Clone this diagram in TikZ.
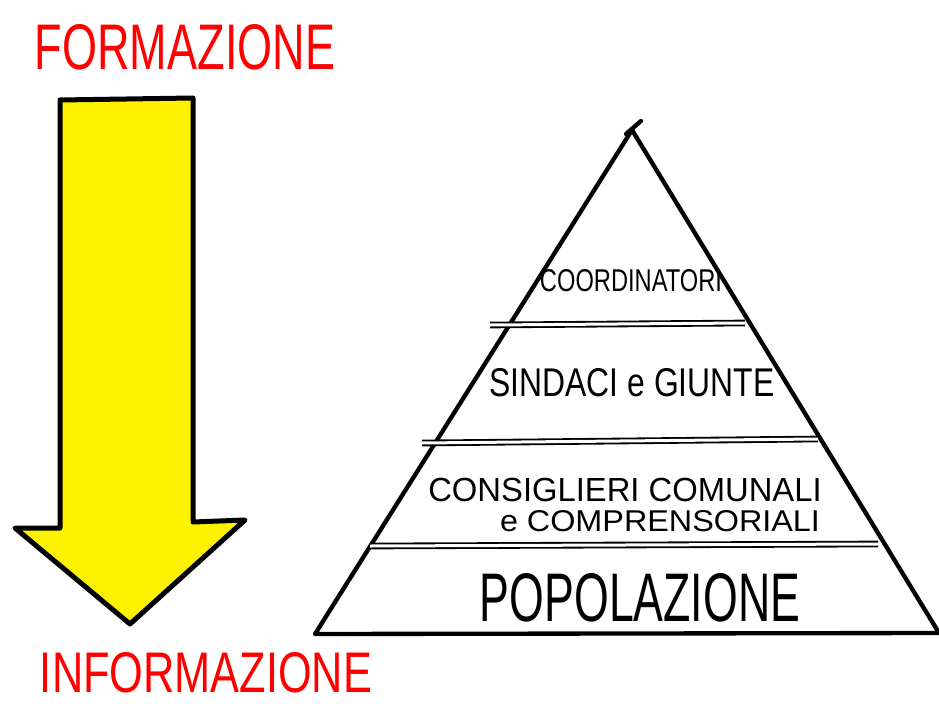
\documentclass[tikz,border=0pt]{standalone}
\usepackage{graphicx}
\usepackage{fontspec}
\setmainfont{Liberation Sans}
\usetikzlibrary{positioning, calc}

% fit a label into the box it takes in the sketch (width, height in mm)
\newcommand{\sketchtext}[3]{\resizebox{#1}{#2}{#3}}

\begin{document}
\begin{tikzpicture}[
    x=0.3mm, y=-0.3mm,
    every node/.style={inner sep=0pt, anchor=center},
    redlbl/.style={text=red},
    lbl/.style={text=black},
    pyr/.style={line width=1.3mm, line join=round, line cap=round},
    tier/.style={line width=0.55mm, double, double distance=0.9mm},
    bigarrow/.style={fill=yellow, draw=black, line width=1.5mm, line join=round}
  ]
  \useasboundingbox (0,0) rectangle (939,703);

  % arrow on the left
  \draw[bigarrow] (60,100) -- (193,98) -- (193,522) -- (245,520)
        -- (130,624) -- (15,528) -- (60,528) -- cycle;

  \node[redlbl] (formazione)   at (185,47)  {\sketchtext{90mm}{13.5mm}{FORMAZIONE}};
  \node[redlbl] (informazione) at (206,673) {\sketchtext{99.6mm}{12mm}{INFORMAZIONE}};

  % pyramid
  \coordinate (apex) at (632,130);
  \coordinate (bl)   at (315,634);
  \coordinate (br)   at (939,633);
  \draw[pyr] (apex) -- (bl) -- (br) -- cycle;
  \draw[pyr] (626,134) -- (641,121);

  \draw[tier] (490,325) -- (745,323);
  \draw[tier] (422,443) -- (818,439);
  \draw[tier] (370,546) -- (878,544);

  \node[lbl] (coord)       at (631,281) {\sketchtext{54.6mm}{6.6mm}{COORDINATORI}};
  \node[lbl] (sindaci)     at (632,383) {\sketchtext{85.5mm}{8.4mm}{SINDACI e GIUNTE}};
  \node[lbl] (consiglieri) at (625,490) {\sketchtext{118mm}{7mm}{CONSIGLIERI COMUNALI}};
  \node[lbl] (comprens)    at (660,521) {\sketchtext{96mm}{6.3mm}{e COMPRENSORIALI}};
  \node[lbl] (popolazione) at (640,598) {\sketchtext{96mm}{14.4mm}{POPOLAZIONE}};
\end{tikzpicture}
\end{document}
